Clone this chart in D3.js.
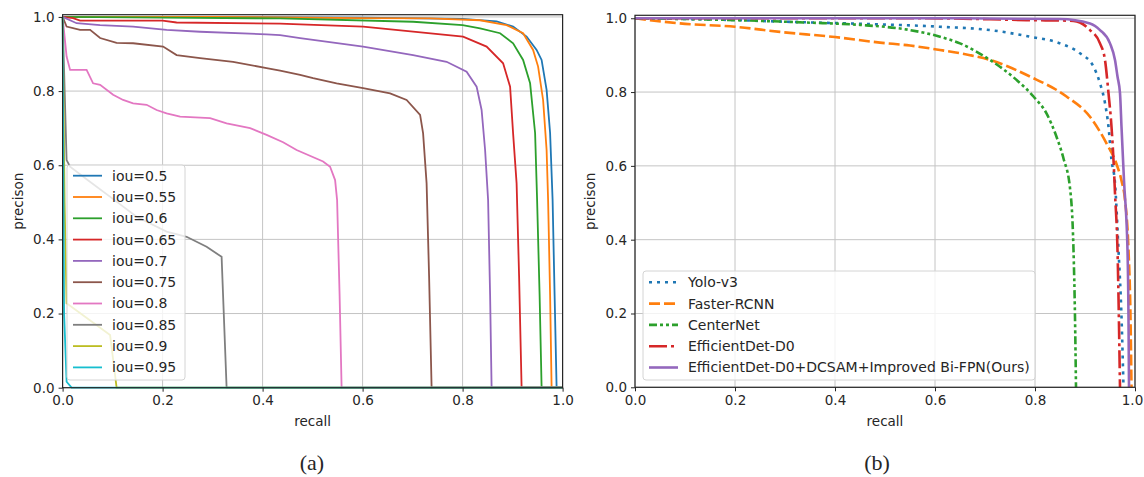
<!DOCTYPE html>
<html>
<head>
<meta charset="utf-8">
<script src="https://cdn.jsdelivr.net/npm/d3@7"></script>
<style>
  body { margin: 0; background: #fff; }
  svg { display: block; }
  text { font-family: "DejaVu Sans", sans-serif; fill: #262626; }
</style>
</head>
<body>
<svg id="chart" width="1144" height="477"></svg>
<script>
// tick labels shared by both panels
const ticks = [0, 0.2, 0.4, 0.6, 0.8, 1.0];

// (a) PR curves per IoU threshold, [recall, precision]
const iouLabels = ["iou=0.5", "iou=0.55", "iou=0.6", "iou=0.65", "iou=0.7",
  "iou=0.75", "iou=0.8", "iou=0.85", "iou=0.9", "iou=0.95"];
const iou50 = [[0,1.0],[0.3,1.0],[0.6,0.998],[0.8,0.995],[0.868,0.988],[0.901,0.974],[0.928,0.947],[0.948,0.911],[0.958,0.884],[0.968,0.803],[0.975,0.687],[0.98,0.506],[0.984,0.25],[0.988,0],[1,0]];
const iou55 = [[0,1.0],[0.3,1.0],[0.6,0.997],[0.735,0.996],[0.835,0.991],[0.888,0.978],[0.921,0.956],[0.941,0.911],[0.951,0.866],[0.961,0.776],[0.968,0.641],[0.971,0.506],[0.975,0.25],[0.978,0],[1,0]];
const iou60 = [[0,1.0],[0.2,0.998],[0.435,0.996],[0.701,0.987],[0.8,0.978],[0.835,0.969],[0.875,0.956],[0.901,0.929],[0.921,0.884],[0.935,0.821],[0.945,0.687],[0.949,0.506],[0.954,0.25],[0.958,0],[1,0]];
const iou65 = [[0,1.0],[0.021,0.997],[0.035,0.99],[0.2,0.99],[0.228,0.985],[0.435,0.982],[0.475,0.98],[0.601,0.974],[0.801,0.947],[0.848,0.92],[0.881,0.875],[0.895,0.812],[0.901,0.686],[0.908,0.551],[0.913,0.3],[0.918,0],[1,0]];
const iou70 = [[0,1.0],[0.028,0.983],[0.075,0.978],[0.141,0.974],[0.208,0.965],[0.275,0.96],[0.408,0.953],[0.435,0.951],[0.475,0.943],[0.601,0.92],[0.701,0.897],[0.768,0.879],[0.808,0.852],[0.828,0.812],[0.838,0.749],[0.845,0.641],[0.851,0.506],[0.855,0.25],[0.858,0],[1,0]];
const iou75 = [[0,1.0],[0.008,0.974],[0.035,0.965],[0.055,0.965],[0.075,0.943],[0.108,0.93],[0.141,0.929],[0.201,0.92],[0.228,0.897],[0.275,0.889],[0.341,0.879],[0.408,0.862],[0.435,0.855],[0.475,0.844],[0.501,0.835],[0.548,0.821],[0.601,0.808],[0.655,0.794],[0.688,0.776],[0.715,0.736],[0.721,0.686],[0.728,0.551],[0.733,0.3],[0.738,0],[1,0]];
const iou80 = [[0,1.0],[0.008,0.893],[0.015,0.857],[0.048,0.857],[0.061,0.821],[0.075,0.817],[0.101,0.79],[0.121,0.776],[0.141,0.767],[0.168,0.763],[0.188,0.749],[0.208,0.74],[0.235,0.731],[0.295,0.727],[0.328,0.713],[0.375,0.70],[0.408,0.682],[0.441,0.662],[0.468,0.641],[0.521,0.61],[0.535,0.596],[0.545,0.56],[0.549,0.506],[0.554,0.25],[0.558,0],[1,0]];
const iou85 = [[0,1.0],[0.008,0.614],[0.015,0.596],[0.05,0.56],[0.1,0.51],[0.148,0.461],[0.208,0.421],[0.248,0.407],[0.288,0.38],[0.318,0.353],[0.328,0],[1,0]];
const iou90 = [[0,1.0],[0.004,0.5],[0.008,0.228],[0.095,0.142],[0.108,0],[1,0]];
const iou95 = [[0,1.0],[0.003,0.2],[0.008,0.016],[0.018,0],[1,0]];

// (b) model comparison, [recall, precision]
const modelLabels = ["Yolo-v3", "Faster-RCNN", "CenterNet", "EfficientDet-D0",
  "EfficientDet-D0+DCSAM+Improved Bi-FPN(Ours)"];
const yolo = [[0,1.0],[0.2,0.995],[0.29,0.991],[0.45,0.985],[0.61,0.977],[0.71,0.968],[0.79,0.95],[0.85,0.932],[0.89,0.905],[0.917,0.869],[0.93,0.824],[0.94,0.77],[0.947,0.706],[0.953,0.616],[0.96,0.553],[0.967,0.372],[0.973,0.191],[0.977,0]];
const faster = [[0,1.0],[0.09,0.986],[0.2,0.977],[0.29,0.963],[0.4,0.949],[0.49,0.934],[0.55,0.926],[0.61,0.914],[0.67,0.9],[0.71,0.887],[0.79,0.842],[0.863,0.788],[0.91,0.733],[0.943,0.661],[0.963,0.605],[0.973,0.56],[0.98,0.508],[0.987,0.372],[0.991,0.191],[0.993,0]];
const centernet = [[0,1.0],[0.2,0.995],[0.35,0.988],[0.45,0.982],[0.55,0.968],[0.61,0.95],[0.65,0.932],[0.71,0.887],[0.763,0.833],[0.797,0.788],[0.823,0.742],[0.843,0.679],[0.857,0.62],[0.87,0.54],[0.877,0.372],[0.88,0.19],[0.882,0]];
const effdet = [[0,1.0],[0.583,1.0],[0.783,0.995],[0.877,0.993],[0.91,0.968],[0.93,0.932],[0.94,0.887],[0.947,0.797],[0.953,0.706],[0.957,0.616],[0.96,0.526],[0.965,0.372],[0.97,0]];
const ours = [[0,1.0],[0.6,1.0],[0.85,0.998],[0.91,0.986],[0.93,0.968],[0.95,0.932],[0.96,0.887],[0.965,0.842],[0.97,0.797],[0.973,0.706],[0.978,0.56],[0.985,0.372],[0.987,0.19],[0.988,0]];

const tab10 = ["#1f77b4","#ff7f0e","#2ca02c","#d62728","#9467bd","#8c564b","#e377c2","#7f7f7f","#bcbd22","#17becf"];

const svg = d3.select("#chart");

function panel(opt) {
  const x = d3.scaleLinear().domain([0, 1]).range([opt.left, opt.right]);
  const y = d3.scaleLinear().domain([0, opt.yMax]).range([opt.bottom, opt.top]);
  const g = svg.append("g");

  // grid
  g.append("g").selectAll("line.gx").data(ticks).enter().append("line")
    .attr("x1", d => x(d)).attr("x2", d => x(d))
    .attr("y1", opt.top).attr("y2", opt.bottom)
    .attr("stroke", "#c4c4c4").attr("stroke-width", 1);
  g.append("g").selectAll("line.gy").data(ticks).enter().append("line")
    .attr("x1", opt.left).attr("x2", opt.right)
    .attr("y1", d => y(d)).attr("y2", d => y(d))
    .attr("stroke", "#c4c4c4").attr("stroke-width", 1);

  // curves
  const line = d3.line().x(d => x(d[0])).y(d => y(d[1])).curve(opt.curve);
  opt.series.forEach(s => {
    g.append("path").datum(s.data)
      .attr("d", line)
      .attr("fill", "none")
      .attr("stroke", s.color)
      .attr("stroke-width", opt.lw)
      .attr("stroke-dasharray", s.dash || null);
  });

  // frame
  g.append("rect")
    .attr("x", opt.left).attr("y", opt.top)
    .attr("width", opt.right - opt.left).attr("height", opt.bottom - opt.top)
    .attr("fill", "none").attr("stroke", "#262626").attr("stroke-width", 1.2);

  // axes
  const fmt = d3.format(".1f");
  const ax = g.append("g").attr("transform", "translate(0," + opt.bottom + ")")
    .call(d3.axisBottom(x).tickValues(ticks).tickFormat(fmt).tickSize(4).tickSizeOuter(0).tickPadding(4));
  const ay = g.append("g").attr("transform", "translate(" + opt.left + ",0)")
    .call(d3.axisLeft(y).tickValues(ticks).tickFormat(fmt).tickSize(4).tickSizeOuter(0).tickPadding(4));
  [ax, ay].forEach(a => {
    a.select(".domain").remove();
    a.selectAll("line").attr("stroke", "#262626");
    a.selectAll("text").style("font-family", "DejaVu Sans").style("font-size", "13.5px").attr("fill", "#262626");
  });
  // keep the last x label inside the page
  if (opt.lastTickShift) {
    ax.selectAll(".tick").filter(d => d === 1).select("text").attr("dx", opt.lastTickShift);
  }

  // axis titles
  g.append("text")
    .attr("x", (opt.left + opt.right) / 2).attr("y", 426)
    .attr("text-anchor", "middle").attr("font-size", "13.5px")
    .text("recall");
  g.append("text")
    .attr("transform", "translate(" + (opt.left - 40) + "," + ((opt.top + opt.bottom) / 2) + ") rotate(-90)")
    .attr("text-anchor", "middle").attr("font-size", "13.5px")
    .text("precison");

  // legend
  const L = opt.legend;
  g.append("rect")
    .attr("x", L.x).attr("y", L.y).attr("width", L.w).attr("height", L.h)
    .attr("rx", 3).attr("fill", "#fff").attr("fill-opacity", 0.8)
    .attr("stroke", "#d4d4d4").attr("stroke-width", 1);
  opt.series.forEach((s, i) => {
    const cy = L.y + L.first + i * L.step;
    g.append("line")
      .attr("x1", L.x + 6).attr("x2", L.x + 35)
      .attr("y1", cy).attr("y2", cy)
      .attr("stroke", s.color).attr("stroke-width", opt.lw)
      .attr("stroke-dasharray", s.dash || null);
    g.append("text")
      .attr("x", L.x + 45).attr("y", cy).attr("dy", "0.35em")
      .attr("font-size", "14px")
      .text(s.label);
  });

  // caption
  svg.append("text")
    .attr("x", opt.capX).attr("y", 470)
    .attr("text-anchor", "middle")
    .style("font-family", "'Liberation Serif', serif").style("font-size", "22px")
    .attr("fill", "#111")
    .text(opt.caption);
}

const leftData = [iou50, iou55, iou60, iou65, iou70, iou75, iou80, iou85, iou90, iou95];
panel({
  left: 62.6, right: 562.6, top: 14.7, bottom: 387.7, yMax: 1.006,
  lw: 1.8, curve: d3.curveLinear,
  series: leftData.map((d, i) => ({ data: d, color: tab10[i], label: iouLabels[i] })),
  legend: { x: 67, y: 165, w: 118, h: 215, first: 10.7, step: 21.3 },
  caption: "(a)", capX: 312
});

const rightData = [yolo, faster, centernet, effdet, ours];
const rightColors = [tab10[0], tab10[1], tab10[2], tab10[3], tab10[4]];
const rightDash = ["3,5", "11,4", "8,3,3,3,3,3", "18,4,3,4", null];
panel({
  left: 635, right: 1135, top: 15.3, bottom: 387.3, yMax: 1.008,
  lw: 2.6, curve: d3.curveMonotoneX,
  series: rightData.map((d, i) => ({ data: d, color: rightColors[i], label: modelLabels[i], dash: rightDash[i] })),
  legend: { x: 643, y: 271, w: 392, h: 109, first: 11.3, step: 21.3 },
  caption: "(b)", capX: 877, lastTickShift: -3
});
</script>
</body>
</html>
